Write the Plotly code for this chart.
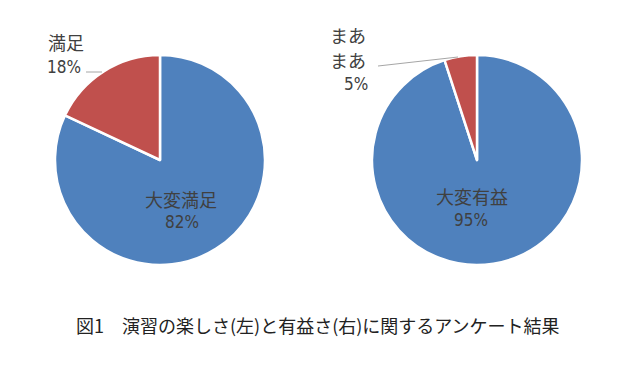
import plotly.graph_objects as go

W, H = 640, 380
OFF = 8  # page body margin offset

left_labels = ["大変満足", "満足"]
left_values = [82, 18]
right_labels = ["大変有益", "まあまあ"]
right_values = [95, 5]
colors = ["#4F81BD", "#C0504D"]
caption = "図1　演習の楽しさ(左)と有益さ(右)に関するアンケート結果"

def px(x):
    return (x - OFF) / W

def py(y):
    return 1 - (y - OFF) / H

fig = go.Figure()
fig.add_trace(go.Pie(labels=left_labels, values=left_values, sort=False,
                     direction="clockwise", rotation=0,
                     marker=dict(colors=colors, line=dict(color="white", width=2.5)),
                     textinfo="none", hoverinfo="label+percent",
                     domain=dict(x=[px(55), px(265)], y=[py(265), py(55)]),
                     showlegend=False))
fig.add_trace(go.Pie(labels=right_labels, values=right_values, sort=False,
                     direction="clockwise", rotation=0,
                     marker=dict(colors=colors, line=dict(color="white", width=2.5)),
                     textinfo="none", hoverinfo="label+percent",
                     domain=dict(x=[px(372), px(582)], y=[py(265), py(55)]),
                     showlegend=False))

jp = "Noto Sans CJK JP"
num = "DejaVu Sans Condensed, Liberation Sans Narrow, Noto Sans CJK JP"
tc = "#404040"

def pct(v):
    return f"{v}%"

ann = [
    dict(x=px(181), y=py(199), text=left_labels[0], font=dict(family=jp, size=18, color=tc)),
    dict(x=px(182), y=py(222), text=pct(left_values[0]), font=dict(family=num, size=17, color=tc)),
    dict(x=px(66), y=py(42), text=left_labels[1], font=dict(family=jp, size=18, color=tc)),
    dict(x=px(64), y=py(67), text=pct(left_values[1]), font=dict(family=num, size=17, color=tc)),
    dict(x=px(472), y=py(196), text=right_labels[0], font=dict(family=jp, size=18, color=tc)),
    dict(x=px(471), y=py(220), text=pct(right_values[0]), font=dict(family=num, size=17, color=tc)),
    dict(x=px(348), y=py(35), text=right_labels[1][:2], font=dict(family=jp, size=18, color=tc)),
    dict(x=px(348), y=py(60), text=right_labels[1][2:], font=dict(family=jp, size=18, color=tc)),
    dict(x=px(356), y=py(84), text=pct(right_values[1]), font=dict(family=num, size=17, color=tc)),
    dict(x=px(318), y=py(325), text=caption, font=dict(family=jp, size=18, color="#222222")),
]
for a in ann:
    a.update(xref="paper", yref="paper", showarrow=False, xanchor="center", yanchor="middle")

shapes = [
    dict(type="line", xref="paper", yref="paper", x0=px(86), y0=py(72), x1=px(102), y1=py(72),
         line=dict(color="#A6A6A6", width=1)),
    dict(type="line", xref="paper", yref="paper", x0=px(378), y0=py(66), x1=px(458), y1=py(57),
         line=dict(color="#A6A6A6", width=1)),
]

fig.update_layout(width=W, height=H, margin=dict(l=0, r=0, t=0, b=0),
                  paper_bgcolor="white", plot_bgcolor="white",
                  annotations=ann, shapes=shapes)
fig.write_html("out.html")
